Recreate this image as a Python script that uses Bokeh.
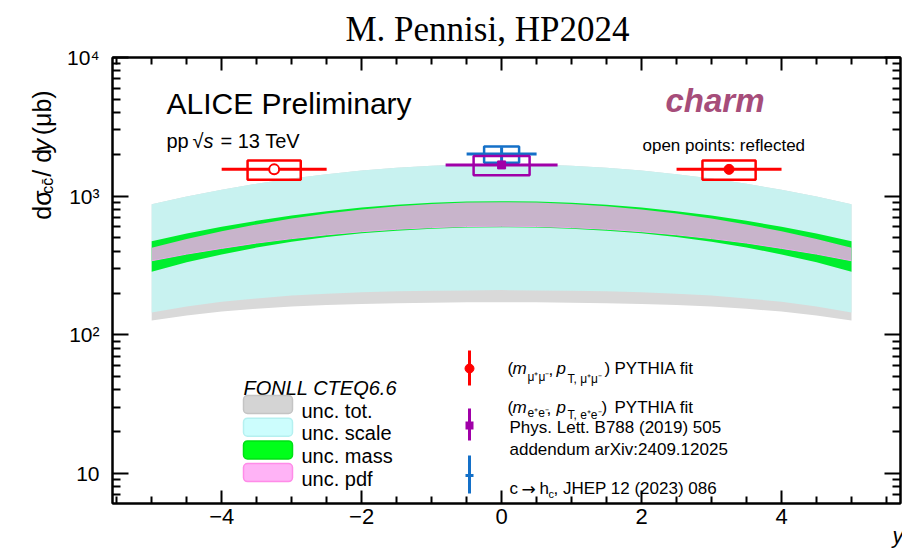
import numpy as np
from math import pi
from bokeh.plotting import figure
from bokeh.layouts import row
from bokeh.models import Range1d, LinearAxis, LogAxis, FixedTicker, Label, BoxAnnotation, Title
from bokeh.embed import file_html
from bokeh.resources import INLINE

# FONLL CTEQ6.6 prediction of dsigma_cc/dy (mub) versus rapidity
rapidity = [-5.0, -4.5, -4.0, -3.5, -3.0, -2.5, -2.0, -1.5, -1.0, -0.5, 0.0,
            0.5, 1.0, 1.5, 2.0, 2.5, 3.0, 3.5, 4.0, 4.5, 5.0]
scale_hi = [875, 993, 1112, 1229, 1340, 1441, 1530, 1604, 1658, 1691, 1702,
            1691, 1658, 1604, 1530, 1441, 1340, 1229, 1112, 993, 875]
scale_lo = [145, 160, 173, 183, 192, 198, 203, 206, 208, 209, 210,
            209, 208, 206, 203, 198, 192, 183, 173, 160, 145]
total_lo = [127, 138, 147, 154, 160, 164, 167, 169, 170, 172, 172,
            172, 170, 169, 167, 164, 160, 154, 147, 138, 127]
mass_hi = [473, 537, 601, 664, 724, 779, 827, 867, 896, 914, 920,
           914, 896, 867, 827, 779, 724, 664, 601, 537, 473]
mass_lo = [285, 333, 380, 426, 469, 507, 540, 564, 582, 594, 597,
           594, 582, 564, 540, 507, 469, 426, 380, 333, 285]
pdf_hi = [425, 490, 558, 625, 689, 749, 802, 846, 878, 898, 905,
          898, 878, 846, 802, 749, 689, 625, 558, 490, 425]
pdf_lo = [342, 382, 420, 459, 494, 526, 554, 577, 593, 604, 607,
          604, 593, 577, 554, 526, 494, 459, 420, 382, 342]

# ALICE measurements: centre, half-width, value, stat and syst errors, syst box half-width
mumu_y = [-3.25, 3.25]
mumu_dy = [0.75, 0.75]
mumu_val = [1560, 1560]
mumu_stat = [30, 30]
mumu_sys = [245, 245]
mumu_box = [0.38, 0.38]

ee_y = [0.0]
ee_dy = [0.8]
ee_val = [1680]
ee_stat = [45]
ee_sys = [265]
ee_box = [0.4]

hc_y = [0.0]
hc_dy = [0.5]
hc_val = [2010]
hc_stat = [240]
hc_sys = [270]
hc_box = [0.25]

x_ticks = [-4, -2, 0, 2, 4]
x_minor = [-5.5, -5, -4.5, -3.5, -3, -2.5, -1.5, -1, -0.5, 0.5, 1, 1.5, 2.5, 3, 3.5, 4.5, 5, 5.5]
y_ticks = [10, 100, 1000, 10000]
y_tick_labels = {10: "10", 100: "10²", 1000: "10³", 10000: "10⁴"}

RED = "#FF0000"
PURPLE = "#A000A8"
BLUE = "#1470C8"
SANS = "Liberation Sans"

W, H = 902, 550
STRIP = 60                      # left strip holding the y axis title
FL, FT, FR, FB = 112, 57, 900, 503

p = figure(width=W - STRIP, height=H, x_range=Range1d(-5.56, 5.70), y_range=Range1d(6.07, 10000),
           y_axis_type="log", output_backend="svg", toolbar_location=None,
           min_border_left=FL - STRIP, min_border_right=W - FR, min_border_top=FT,
           min_border_bottom=H - FB)
p.background_fill_color = "white"
p.border_fill_color = "white"
p.outline_line_color = "black"
p.outline_line_width = 2
p.xgrid.visible = False
p.ygrid.visible = False

# theory bands
p.varea(x=rapidity, y1=total_lo, y2=scale_hi, fill_color="#D9D9D9")
p.varea(x=rapidity, y1=scale_lo, y2=scale_hi, fill_color="#C8F2F0")
p.varea(x=rapidity, y1=mass_lo, y2=mass_hi, fill_color="#00EE2E")
p.varea(x=rapidity, y1=pdf_lo, y2=pdf_hi, fill_color="#C8B4CB")
p.line(rapidity, pdf_lo, line_color="#EBA8EB", line_width=1)


def draw_points(y, dy, val, stat, sys, box, color):
    y = np.array(y, float)
    dy = np.array(dy, float)
    val = np.array(val, float)
    stat = np.array(stat, float)
    sys = np.array(sys, float)
    box = np.array(box, float)
    p.quad(left=y - box, right=y + box, bottom=val - sys, top=val + sys,
           fill_color=None, line_color=color, line_width=2.5)
    p.segment(x0=y - dy, x1=y + dy, y0=val, y1=val, line_color=color, line_width=3)
    p.segment(x0=y, x1=y, y0=val - stat, y1=val + stat, line_color=color, line_width=3)


draw_points(hc_y, hc_dy, hc_val, hc_stat, hc_sys, hc_box, BLUE)
draw_points(ee_y, ee_dy, ee_val, ee_stat, ee_sys, ee_box, PURPLE)
p.scatter(ee_y, ee_val, marker="square", size=8, fill_color=PURPLE, line_color=PURPLE)
draw_points(mumu_y, mumu_dy, mumu_val, mumu_stat, mumu_sys, mumu_box, RED)
# negative rapidity point is the reflected one (open marker)
p.scatter(mumu_y[:1], mumu_val[:1], marker="circle", size=10, fill_color="white",
          line_color=RED, line_width=2)
p.scatter(mumu_y[1:], mumu_val[1:], marker="circle", size=10, fill_color=RED, line_color=RED)

# axes: ticks inside on all four sides
xb = p.xaxis[0]
xb.ticker = FixedTicker(ticks=x_ticks, minor_ticks=x_minor)
yl = p.yaxis[0]
y_minor = [m * 10 ** e for e in range(0, 4) for m in range(2, 10)]
yl.ticker = FixedTicker(ticks=y_ticks, minor_ticks=y_minor)
yl.major_label_overrides = y_tick_labels

xt = LinearAxis(ticker=FixedTicker(ticks=x_ticks, minor_ticks=x_minor))
yr = LogAxis(ticker=FixedTicker(ticks=y_ticks, minor_ticks=y_minor))
p.add_layout(xt, "above")
p.add_layout(yr, "right")

for ax in (xb, yl, xt, yr):
    ax.axis_line_width = 2
    ax.major_tick_line_width = 2
    ax.minor_tick_line_width = 2
    ax.major_tick_out = 0
    ax.minor_tick_out = 0
    ax.major_label_text_font = SANS
    ax.major_label_text_font_size = "21px"
    ax.major_label_text_color = "black"
for ax in (xb, xt):
    ax.major_tick_in = 13
    ax.minor_tick_in = 7
for ax in (yl, yr):
    ax.major_tick_in = 16
    ax.minor_tick_in = 8
xb.major_label_text_font_size = "22px"
xb.major_label_standoff = 5
yl.major_label_standoff = 13
for ax in (xt, yr):
    ax.major_label_text_font_size = "0px"
    ax.major_label_standoff = 0
    ax.major_label_overrides = {t: "" for t in ax.ticker.ticks}


def side_title(text, size, align, offset, valign, standoff, font=SANS, style="normal"):
    return Title(text=text, align=align, offset=offset, vertical_align=valign, standoff=standoff,
                 text_font=font, text_font_size=f"{size}px", text_font_style=style,
                 text_color="black")


# page header above the frame
p.title = side_title("M. Pennisi, HP2024", 35, "left", 233, "top", 14, font="Liberation Serif")
# x axis title at the right end
p.add_layout(side_title("y", 22, "right", -3, "bottom", -12, style="italic"), "below")


def txt(X, Y, s, size, font=SANS, style="normal", color="black", align="left"):
    p.add_layout(Label(x=X - FL, y=FB - Y, x_units="screen", y_units="screen", text=s,
                       text_font=font, text_font_size=f"{size}px", text_font_style=style,
                       text_color=color, text_align=align, text_baseline="alphabetic"))


def sbox(X0, Y0, X1, Y1, fill, line=None, radius=0, lw=1):
    p.add_layout(BoxAnnotation(left=X0 - FL, right=X1 - FL, top=FB - Y0, bottom=FB - Y1,
                               left_units="screen", right_units="screen",
                               top_units="screen", bottom_units="screen",
                               fill_color=fill, fill_alpha=1.0,
                               line_color=line, line_alpha=1.0, line_width=lw,
                               border_radius=radius))


# headers inside the frame
txt(166, 103, "ALICE Preliminary", 30)
txt(166, 140, "pp", 20)
txt(192, 140, "√", 20)
txt(203, 140, "s", 20, style="italic")
txt(220, 140, "= 13 TeV", 20)
txt(665, 100, "charm", 33, style="bold italic", color="#A64D7A")
txt(642, 145, "open points: reflected", 17)

# FONLL legend
txt(243, 387, "FONLL CTEQ6.6", 20, style="italic")
swatches = [("unc. tot.", "#D4D4D4", "#C4C4C4"), ("unc. scale", "#CCFDFD", "#B5F0F0"),
            ("unc. mass", "#00FF1A", "#00E016"), ("unc. pdf", "#FFB3F6", "#FF8CE8")]
for i, (name, fc, lc) in enumerate(swatches):
    top = 395 + i * 22.7
    sbox(243, top, 292, top + 18, fc, lc, radius=4, lw=1.5)
    txt(301, top + 15, name, 20)

# data legend
sbox(467.5, 350, 470.5, 385, RED)
sbox(464.5, 363.5, 473.5, 372.5, RED, RED, radius=5)
sbox(467.5, 408, 470.5, 440, PURPLE)
sbox(465, 421, 473, 429, PURPLE)
sbox(467.5, 455, 470.5, 493, BLUE)
sbox(465, 473.5, 473, 476.5, BLUE)

txt(507, 368, "(", 17)
txt(512, 368, "m", 17, style="italic")
txt(527, 376, "μ⁺μ⁻", 12)
txt(548, 368, ",", 17)
txt(556, 368, "p", 17, style="italic")
txt(567, 378, "T, μ⁺μ⁻", 12)
txt(604, 368, ")", 17)
txt(614, 368, "PYTHIA fit", 17)

txt(507, 407, "(", 17)
txt(512, 407, "m", 17, style="italic")
txt(527, 412, "e⁺e⁻", 12)
txt(546, 407, ",", 17)
txt(556, 407, "p", 17, style="italic")
txt(567, 414, "T, e⁺e⁻", 12)
txt(601, 407, ")", 17)
txt(614, 407, "PYTHIA fit", 17)
txt(509, 427, "Phys. Lett. B788 (2019) 505", 17)
txt(509, 449, "addendum arXiv:2409.12025", 17)

txt(509, 488, "c", 17)
txt(521, 488, "→", 17, font="DejaVu Sans")
txt(539, 488, "h", 17)
txt(548, 493, "c", 11)
txt(553, 488, ", JHEP 12 (2023) 086", 17)

# y axis title, drawn in a narrow strip left of the plot
ylab = figure(width=STRIP, height=H, x_range=Range1d(0, STRIP), y_range=Range1d(0, H),
              x_axis_location=None, y_axis_location=None, output_backend="svg",
              toolbar_location=None, min_border=0, title=None)
ylab.grid.visible = False
ylab.outline_line_color = None
ylab.background_fill_color = "white"
ylab.border_fill_color = "white"


def vtxt(X, Y, s, size, style="normal"):
    ylab.add_layout(Label(x=X, y=H - Y, text=s, angle=pi / 2, text_font=SANS,
                          text_font_size=f"{size}px", text_font_style=style,
                          text_color="black", text_align="left", text_baseline="alphabetic"))


vtxt(41, 200, "dσ", 25)
vtxt(47, 168, "cc\u0304", 16)
vtxt(41, 147, "/ d", 25)
vtxt(41, 116, "y", 25, style="italic")
vtxt(41, 96, "(μb)", 25)

layout = row(ylab, p)
open("out.html", "w").write(file_html(layout, INLINE))
